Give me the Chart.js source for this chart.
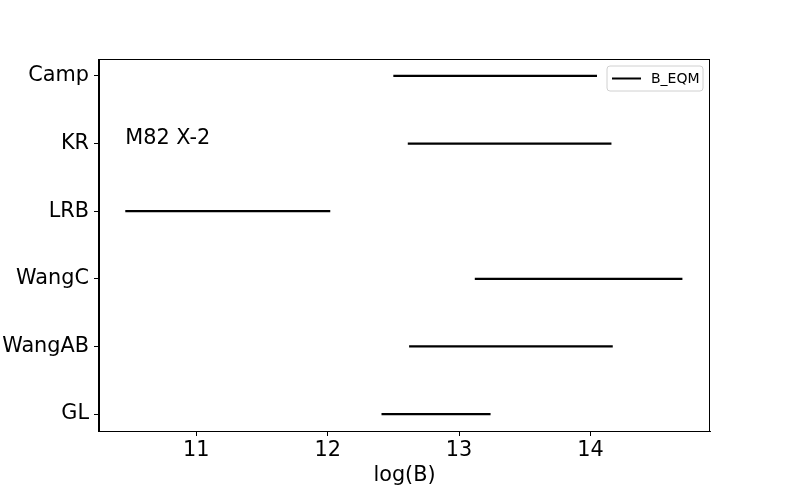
<!DOCTYPE html>
<html>
<head>
<meta charset="utf-8">
<script src="https://cdn.jsdelivr.net/npm/chart.js@4.4.1/dist/chart.umd.min.js"></script>
<style>
  html, body { margin: 0; padding: 0; background: #fff; }
  #wrap { width: 789px; height: 493px; }
</style>
</head>
<body>
<div id="wrap"><canvas id="bChart" width="789" height="493"></canvas></div>
<script>
// data
const categories = ['Camp', 'KR', 'LRB', 'WangC', 'WangAB', 'GL'];
const lowB = [12.50, 12.61, 10.46, 13.12, 12.62, 12.41];
const highB = [14.05, 14.16, 12.02, 14.70, 14.17, 13.24];
const xTicks = [11, 12, 13, 14];
const seriesName = 'B_EQM';
const noteText = 'M82 X-2';
const noteAt = { x: 10.46, y: 1 };

const FONT = 'DejaVu Sans';
const BIG = 20.8;

// one line per category, only the first one goes in the legend
const datasets = categories.map((c, i) => ({
    label: seriesName,
    data: [{ x: lowB[i], y: i }, { x: highB[i], y: i }],
    borderColor: '#000',
    borderWidth: 2.2,
    pointRadius: 0,
    fill: false
}));

// frame, note and legend drawn onto the chart area
const extras = {
    id: 'extras',
    afterDraw(chart) {
        const { ctx, chartArea: a, scales } = chart;
        ctx.save();
        ctx.strokeStyle = '#000';
        ctx.lineWidth = 1;
        ctx.strokeRect(a.left - 0.5, a.top + 0.5, a.right - a.left, a.bottom - a.top);

        ctx.fillStyle = '#000';
        ctx.font = BIG + 'px "' + FONT + '"';
        ctx.textAlign = 'left';
        ctx.textBaseline = 'alphabetic';
        ctx.fillText(noteText, scales.x.getPixelForValue(noteAt.x), scales.y.getPixelForValue(noteAt.y));

        // legend box, upper right
        const bx = a.right - 103, by = a.top + 7, bw = 96, bh = 25;
        ctx.beginPath();
        ctx.roundRect(bx, by, bw, bh, 3);
        ctx.fillStyle = 'rgba(255,255,255,0.8)';
        ctx.fill();
        ctx.strokeStyle = '#d0d0d0';
        ctx.stroke();
        ctx.beginPath();
        ctx.moveTo(bx + 5, by + bh / 2);
        ctx.lineTo(bx + 34, by + bh / 2);
        ctx.strokeStyle = '#000';
        ctx.lineWidth = 2;
        ctx.stroke();
        ctx.fillStyle = '#000';
        ctx.font = '14px "' + FONT + '"';
        ctx.textBaseline = 'middle';
        ctx.fillText(seriesName, bx + 44, by + bh / 2 + 1);
        ctx.restore();
    }
};

const ctx = document.getElementById('bChart').getContext('2d');
let chart = new Chart(ctx, {
    type: 'line',
    data: { datasets: datasets },
    options: {
        responsive: false,
        animation: false,
        layout: { padding: { top: 59, right: 79, left: 0, bottom: 0 } },
        plugins: {
            legend: { display: false },
            tooltip: { enabled: false }
        },
        scales: {
            x: {
                type: 'linear',
                min: 10.26,
                max: 14.91,
                afterBuildTicks: s => { s.ticks = xTicks.map(v => ({ value: v })); },
                afterFit: s => { s.height = 62; },
                grid: { drawOnChartArea: false, tickLength: 5, color: '#000' },
                border: { display: true, color: '#000' },
                ticks: { color: '#000', padding: 2, font: { family: FONT, size: BIG }, callback: v => v },
                title: { display: true, text: 'log(B)', color: '#000', font: { family: FONT, size: BIG }, padding: { top: 0, bottom: 5 } }
            },
            y: {
                type: 'linear',
                reverse: true,
                min: -0.25,
                max: 5.25,
                afterBuildTicks: s => { s.ticks = categories.map((c, i) => ({ value: i })); },
                afterFit: s => { s.width = 99; },
                grid: { drawOnChartArea: false, tickLength: 5, color: '#000' },
                border: { display: true, color: '#000' },
                ticks: { color: '#000', padding: 5, font: { family: FONT, size: BIG }, callback: v => categories[v] }
            }
        }
    },
    plugins: [extras]
});
</script>
</body>
</html>
